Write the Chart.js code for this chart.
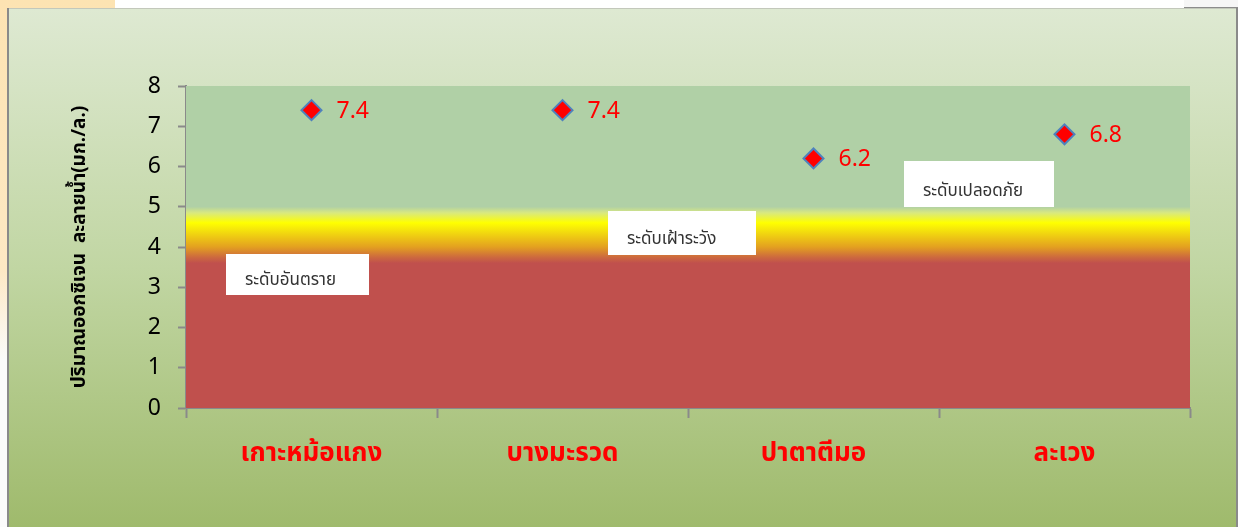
<!DOCTYPE html>
<html>
<head>
<meta charset="utf-8">
<script src="https://cdn.jsdelivr.net/npm/chart.js@4"></script>
<style>
  html, body { margin: 0; padding: 0; background: #fff; }
  #wrap { position: relative; width: 1238px; height: 527px; }
</style>
</head>
<body>
<div id="wrap"><canvas id="oxygenChart" width="1238" height="527"></canvas></div>
<script>
// data
var stations = ["เกาะหม้อแกง", "บางมะรวด", "ปาตาตีมอ", "ละเวง"];
var oxygen = [7.4, 7.4, 6.2, 6.8];
var yTicks = [0, 1, 2, 3, 4, 5, 6, 7, 8];
var yTitle = "ปริมาณออกซิเจน  ละลายน้ำ(มก./ล.)";
// level bands: red below dangerLevel, yellow warning around it, green above safeLevel
var dangerLevel = 3.6;
var safeLevel = 5.0;
var levelNames = ["ระดับอันตราย", "ระดับเฝ้าระวัง", "ระดับเปลอดภัย"];

var thaiFont = "'Noto Sans Thai', 'Noto Sans', 'DejaVu Sans', sans-serif";

// slide + frame background
var backgroundPlugin = {
  id: "frameBg",
  beforeDraw: function (chart) {
    var c = chart.ctx, w = chart.width, h = chart.height;
    c.save();
    var lg = c.createLinearGradient(0, 0, 0, 360);
    lg.addColorStop(0, "#fde3b2");
    lg.addColorStop(0.75, "#fde8c4");
    lg.addColorStop(1, "#fbfbfb");
    c.fillStyle = lg;
    c.fillRect(0, 0, 8, h);
    c.fillRect(0, 0, 115, 8);
    c.fillStyle = "#ffffff";
    c.fillRect(115, 0, 1070, 8);
    c.fillStyle = "#f6f6f6";
    c.fillRect(1184, 0, w - 1184, 8);
    c.fillStyle = "#8c8c8c";
    c.fillRect(1184, 7, w - 1184, 2);

    var g = c.createLinearGradient(0, 9, 0, h);
    g.addColorStop(0, "#dee9d2");
    g.addColorStop(0.5, "#c1d6a3");
    g.addColorStop(1, "#9fba6c");
    c.fillStyle = g;
    c.fillRect(8, 9, w - 8, h - 9);
    c.fillStyle = "#c3c8bb";
    c.fillRect(8, 8, w - 8, 1);
    c.fillStyle = "#8a8a8a";
    c.fillRect(7, 8, 2, h - 8);
    c.fillRect(w - 2, 8, 2, h - 8);
    c.restore();
  }
};

// coloured level bands behind the points
var bandPlugin = {
  id: "bands",
  beforeDatasetsDraw: function (chart) {
    var c = chart.ctx, a = chart.chartArea, y = chart.scales.y;
    var top = y.getPixelForValue(y.max), bottom = y.getPixelForValue(y.min);
    var span = bottom - top;
    function stop(v) { return (y.getPixelForValue(v) - top) / span; }
    var g = c.createLinearGradient(0, top, 0, bottom);
    g.addColorStop(0, "#b0d0a6");
    g.addColorStop(stop(safeLevel), "#b0d0a6");
    g.addColorStop(stop(safeLevel - 0.15), "#d8e880");
    g.addColorStop(stop(safeLevel - 0.4), "#ffff00");
    g.addColorStop(stop(safeLevel - 0.55), "#f6e80a");
    g.addColorStop(stop(dangerLevel + 0.4), "#e3a020");
    g.addColorStop(stop(dangerLevel + 0.15), "#cd6a3e");
    g.addColorStop(stop(dangerLevel), "#c0504d");
    g.addColorStop(1, "#c0504d");
    c.save();
    c.fillStyle = g;
    c.fillRect(a.left, top, a.right - a.left, span);
    c.restore();
  }
};

// white text boxes with the level names
var notePlugin = {
  id: "levelNotes",
  afterDatasetsDraw: function (chart) {
    var c = chart.ctx, x = chart.scales.x, y = chart.scales.y;
    var boxes = [
      { at: -0.34, v: 3.83, w: 143, h: 41 },
      { at: 1.18, v: 4.89, w: 148, h: 44 },
      { at: 2.36, v: 6.14, w: 150, h: 46 }
    ];
    c.save();
    boxes.forEach(function (b, i) {
      var bx = Math.round(x.getPixelForValue(b.at));
      var by = Math.round(y.getPixelForValue(b.v));
      c.fillStyle = "#ffffff";
      c.fillRect(bx, by, b.w, b.h);
      c.save();
      c.beginPath();
      c.rect(bx, by, b.w, b.h);
      c.clip();
      c.fillStyle = "#333333";
      c.font = "17px " + thaiFont;
      c.textAlign = "left";
      c.textBaseline = "middle";
      c.fillText(levelNames[i], bx + 19, by + b.h * 0.68);
      c.restore();
    });
    c.restore();
  }
};

// value labels to the right of each marker
var valueLabelPlugin = {
  id: "valueLabels",
  afterDatasetsDraw: function (chart) {
    var c = chart.ctx;
    var meta = chart.getDatasetMeta(0);
    c.save();
    c.fillStyle = "#ff0000";
    c.font = "23px 'Noto Sans', sans-serif";
    c.textAlign = "left";
    c.textBaseline = "middle";
    meta.data.forEach(function (pt, i) {
      c.fillText(oxygen[i].toFixed(1), pt.x + 25, pt.y + 1);
    });
    c.restore();
  }
};

var ctx = document.getElementById("oxygenChart").getContext("2d");
var oxygenChart = new Chart(ctx, {
  type: "line",
  data: {
    labels: stations,
    datasets: [
      {
        label: "ออกซิเจนละลายน้ำ",
        data: oxygen,
        showLine: false,
        pointStyle: "rectRot",
        pointRadius: 10,
        pointHoverRadius: 10,
        pointBackgroundColor: "#ff0000",
        pointBorderColor: "#4f81bd",
        pointBorderWidth: 2
      }
    ]
  },
  options: {
    responsive: false,
    animation: false,
    layout: { padding: { top: 86, right: 48, left: 68, bottom: 0 } },
    plugins: {
      legend: { display: false },
      tooltip: { enabled: false }
    },
    scales: {
      x: {
        offset: true,
        grid: {
          offset: true,
          drawOnChartArea: false,
          drawTicks: true,
          tickLength: 10,
          tickWidth: 2,
          color: "#8a8a8a"
        },
        border: { color: "#8a8a8a", width: 2 },
        ticks: {
          color: "#ff0000",
          padding: 22,
          font: { family: thaiFont, size: 26, weight: "bold" }
        },
        afterFit: function (scale) { scale.height = 119; }
      },
      y: {
        min: 0,
        max: 8,
        afterBuildTicks: function (scale) {
          scale.ticks = yTicks.map(function (v) { return { value: v }; });
        },
        grid: {
          drawOnChartArea: false,
          tickLength: 8,
          tickWidth: 2,
          color: "#8a8a8a"
        },
        border: { color: "#8a8a8a", width: 2 },
        ticks: {
          color: "#000000",
          padding: 17,
          font: { family: "'Noto Sans', sans-serif", size: 23 }
        },
        title: {
          display: true,
          text: yTitle,
          color: "#000000",
          padding: { top: 2, bottom: 0 },
          font: { family: thaiFont, size: 19, weight: "bold" }
        },
        afterFit: function (scale) { scale.width = 118; }
      }
    }
  },
  plugins: [backgroundPlugin, bandPlugin, notePlugin, valueLabelPlugin]
});
</script>
</body>
</html>
